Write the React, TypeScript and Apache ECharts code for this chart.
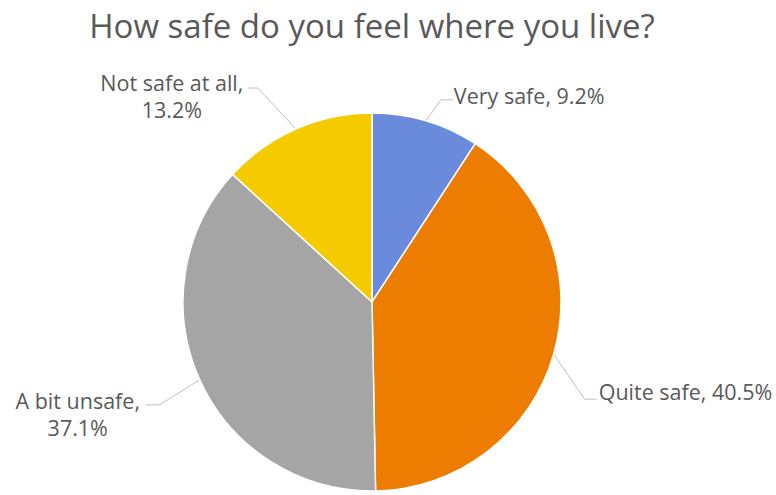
import React, { useEffect, useRef } from "react";
import * as echarts from "echarts";

const title = "How safe do you feel where you live?";
const categories = ["Very safe", "Quite safe", "A bit unsafe", "Not safe at all"];
const values = [9.2, 40.5, 37.1, 13.2];
const colors = ["#6A8BDC", "#ED7D00", "#A5A5A5", "#F5CB00"];

// layout: label line elbow offset (ex, ey), horizontal tail (hx), label offset from tail end (lx, ly), align, multiline
const labelLayouts = [
  { ex: 15, ey: -21, hx: 12, lx: 1, ly: -4, align: "left", wrap: false },
  { ex: 31, ey: 45, hx: 12, lx: 2, ly: -8, align: "left", wrap: false },
  { ex: -40, ey: 25, hx: -14, lx: -68, ly: 9, align: "center", wrap: true },
  { ex: -38, ey: -41, hx: -10, lx: -76, ly: 8, align: "center", wrap: true },
];

const CENTER = [372, 302];
const RADIUS = 189;
const FONT = "'Open Sans', sans-serif";

export default function App() {
  const ref = useRef<HTMLDivElement>(null);
  useEffect(() => {
    document.body.style.margin = "0";
    const chart = echarts.init(ref.current!, undefined, { renderer: "svg" });
    const total = values.reduce((a, b) => a + b, 0);
    const mids: number[] = [];
    let acc = 0;
    values.forEach((v) => {
      mids.push(((acc + v / 2) / total) * Math.PI * 2);
      acc += v;
    });
    chart.setOption({
      animation: false,
      graphic: [
        {
          type: "text",
          x: 372,
          y: 25,
          style: {
            text: title,
            fontFamily: FONT,
            fontSize: 33,
            fill: "#595959",
            align: "center",
            verticalAlign: "middle",
          },
        },
      ],
      series: [
        {
          type: "pie",
          center: CENTER,
          radius: RADIUS,
          startAngle: 90,
          clockwise: true,
          data: categories.map((c, i) => ({ name: c, value: values[i], itemStyle: { color: colors[i] } })),
          itemStyle: { borderColor: "#ffffff", borderWidth: 1.5 },
          label: {
            show: true,
            position: "outside",
            fontFamily: FONT,
            fontSize: 21.5,
            color: "#595959",
            lineHeight: 27,
            overflow: "none",
            width: 260,
            formatter: (p: any) => {
              const L = labelLayouts[p.dataIndex];
              return `${p.name},${L.wrap ? "\n" : " "}${p.value}%`;
            },
          },
          labelLine: { show: true, smooth: false, lineStyle: { color: "#BFBFBF", width: 1 } },
          labelLayout: (params: any) => {
            const i = params.dataIndex;
            const L = labelLayouts[i];
            const a = mids[i];
            const p0 = [CENTER[0] + RADIUS * Math.sin(a), CENTER[1] - RADIUS * Math.cos(a)];
            const elbow = [p0[0] + L.ex, p0[1] + L.ey];
            const end = [elbow[0] + L.hx, elbow[1]];
            return {
              x: end[0] + L.lx,
              y: end[1] + L.ly,
              align: L.align,
              verticalAlign: "middle",
              labelLinePoints: [p0, elbow, end],
            };
          },
        },
      ],
    });
    return () => chart.dispose();
  }, []);
  return <div ref={ref} style={{ width: 776, height: 495 }} />;
}
